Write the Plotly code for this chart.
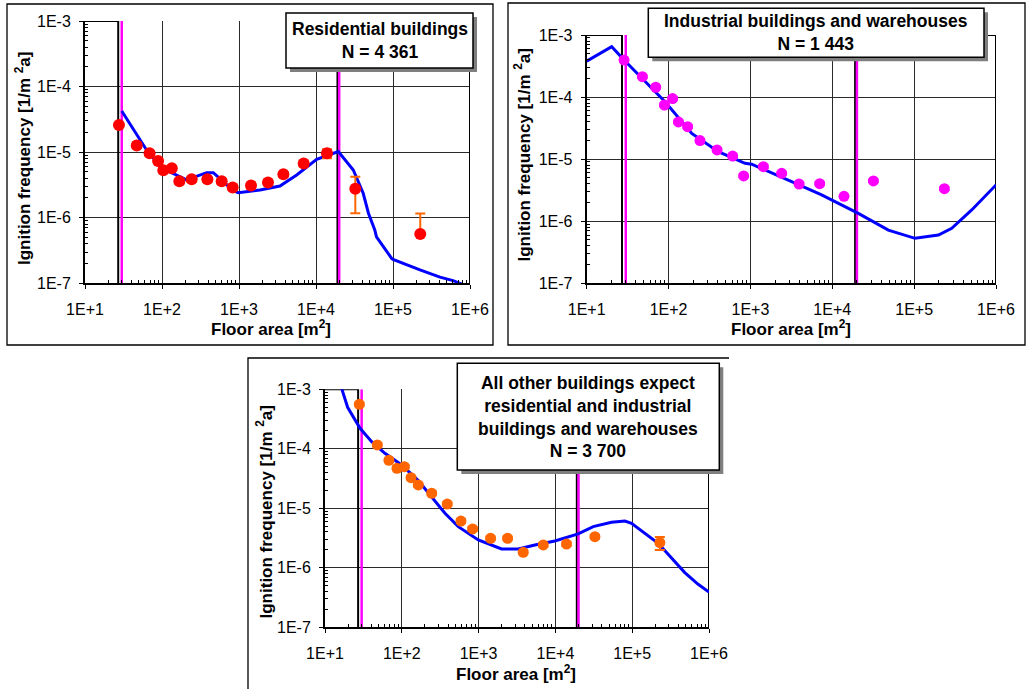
import plotly.graph_objects as go

# ---------------- data ----------------
# Residential buildings
res_area = [27.6, 47, 69, 89, 104, 134, 168, 243, 388, 596, 828, 1432, 2380, 3770, 6920, 13900, 32400, 226000]
res_freq = [2.6e-5, 1.26e-5, 9.6e-6, 7.3e-6, 5.3e-6, 5.7e-6, 3.6e-6, 3.85e-6, 3.85e-6, 3.6e-6, 2.9e-6,
            3.1e-6, 3.45e-6, 4.6e-6, 6.7e-6, 9.6e-6, 2.77e-6, 5.65e-7]
res_err_hi = [1.5e-6, 8e-7, 6e-7, 5e-7, 4e-7, 4e-7, 3e-7, 3e-7, 3e-7, 3e-7, 2.5e-7, 3e-7, 3e-7, 4e-7, 6e-7,
              1.5e-6, 1.45e-6, 6e-7]
res_err_lo = [1.5e-6, 8e-7, 6e-7, 5e-7, 4e-7, 4e-7, 3e-7, 3e-7, 3e-7, 3e-7, 2.5e-7, 3e-7, 3e-7, 4e-7, 6e-7,
              1.5e-6, 1.6e-6, 0]
res_fit_area = [30, 31.4, 63, 99, 209, 380, 464, 843, 980, 1875, 3400, 5610, 10200, 19500, 30500, 41000,
                48000, 58000, 61000, 96000, 100000, 224000, 407000, 603000, 861000, 1000000]
res_fit_freq = [4.25e-5, 3.9e-5, 1.08e-5, 5.7e-6, 3.77e-6, 4.87e-6, 4.87e-6, 2.58e-6, 2.41e-6, 2.65e-6,
                3.05e-6, 4.49e-6, 7.8e-6, 1.02e-5, 5.35e-6, 2.36e-6, 1.17e-6, 6.5e-7, 5.1e-7, 2.4e-7,
                2.32e-7, 1.6e-7, 1.24e-7, 1.1e-7, 9.3e-8, 9.1e-8]

# Industrial buildings and warehouses
ind_area = [28.6, 47.9, 69.7, 89, 112, 132, 171, 242, 391, 607, 827, 1440, 2410, 3930, 7020, 13900, 31800, 234000]
ind_freq = [3.95e-4, 2.13e-4, 1.44e-4, 7.45e-5, 9.45e-5, 3.97e-5, 3.34e-5, 1.99e-5, 1.41e-5, 1.12e-5,
            5.36e-6, 7.57e-6, 5.91e-6, 3.98e-6, 4.03e-6, 2.52e-6, 4.45e-6, 3.35e-6]
ind_err = [v * 0.05 for v in ind_freq]
ind_fit_area = [10, 20.2, 28.6, 90.6, 192, 405, 859, 1035, 3190, 7410, 20800, 48400, 102500, 198000,
                288000, 505000, 1000000]
ind_fit_freq = [3.8e-4, 6.5e-4, 3.95e-4, 8.4e-5, 2.6e-5, 1.32e-5, 8.57e-6, 8.3e-6, 4.35e-6, 2.65e-6,
                1.34e-6, 7.2e-7, 5.3e-7, 6.0e-7, 7.7e-7, 1.52e-6, 3.84e-6]

# All other buildings
oth_area = [28, 48, 68, 86.5, 108, 132, 164, 245, 391, 589, 835, 1432, 2383, 3810, 6950, 13960, 32700, 229000]
oth_freq = [5.6e-4, 1.16e-4, 6.4e-5, 4.7e-5, 5.0e-5, 3.27e-5, 2.47e-5, 1.79e-5, 1.18e-5, 6.1e-6, 4.5e-6,
            3.13e-6, 3.13e-6, 1.82e-6, 2.42e-6, 2.51e-6, 3.34e-6, 2.65e-6]
oth_err = [v * 0.07 for v in oth_freq[:-1]] + [6.5e-7]
oth_fit_area = [15.7, 19.7, 28.6, 40.5, 60.3, 99.5, 164, 257, 365, 544, 990, 1990, 3280, 5410, 9840,
                19800, 31100, 53800, 80300, 98000, 218000, 484000, 722000, 1000000]
oth_fit_freq = [1.26e-3, 4.98e-4, 2.21e-4, 1.32e-4, 8.4e-5, 5.35e-5, 2.92e-5, 1.47e-5, 8.24e-6, 4.92e-6,
                2.94e-6, 2.07e-6, 2.07e-6, 2.42e-6, 2.82e-6, 3.71e-6, 4.92e-6, 5.82e-6, 6.12e-6, 5.6e-6,
                2.58e-6, 8.3e-7, 5.28e-7, 3.9e-7]

# class limits of the floor-area range
limit_low = 30
limit_high = 20000
frame_low = 27
frame_high = 19000

x_tick_vals = [10, 100, 1000, 10000, 100000, 1000000]
x_tick_text = ["1E+1", "1E+2", "1E+3", "1E+4", "1E+5", "1E+6"]
y_tick_vals = [1e-7, 1e-6, 1e-5, 1e-4, 1e-3]
y_tick_text = ["1E-7", "1E-6", "1E-5", "1E-4", "1E-3"]

panel_titles = ["Residential buildings<br>N = 4 361",
                "Industrial buildings and warehouses<br>N = 1 443",
                "All other buildings expect<br>residential and industrial<br>buildings and warehouses<br>N = 3 700"]

# ---------------- layout helpers ----------------
W, H = 1029, 689
FONT = "Liberation Sans, Arial, sans-serif"


def px_x(p):
    return p / W


def px_y(p):
    return 1 - p / H


x_minor = [k * 10 ** e for e in range(1, 6) for k in range(2, 10)]
y_minor = [k * 10.0 ** e for e in range(-7, -3) for k in range(2, 10)]


def x_axis(dom, anchor):
    return dict(type="log", range=[1, 6], domain=dom, anchor=anchor,
                showgrid=True, gridcolor="#2a2a2a", gridwidth=1, zeroline=False,
                showline=True, linecolor="black", linewidth=2,
                ticks="outside", ticklen=4, tickwidth=1, tickcolor="black",
                tickmode="array", tickvals=x_tick_vals, ticktext=x_tick_text,
                tickfont=dict(family=FONT, size=16, color="black"),
                ticklabelstandoff=6,
                minor=dict(ticks="inside", ticklen=3, tickwidth=1, tickcolor="black",
                           tickmode="array", tickvals=x_minor, showgrid=False),
                automargin=False, fixedrange=True)


def y_axis(dom, anchor):
    return dict(type="log", range=[-7, -3], domain=dom, anchor=anchor,
                showgrid=True, gridcolor="#2a2a2a", gridwidth=1, zeroline=False,
                showline=True, linecolor="black", linewidth=2,
                ticks="outside", ticklen=4, tickwidth=1, tickcolor="black",
                tickmode="array", tickvals=y_tick_vals, ticktext=y_tick_text,
                tickfont=dict(family=FONT, size=16, color="black"),
                ticklabelstandoff=5,
                minor=dict(ticks="inside", ticklen=3, tickwidth=1, tickcolor="black",
                           tickmode="array", tickvals=y_minor, showgrid=False),
                automargin=False, fixedrange=True)


# plot-area pixel boxes: (left, right, top, bottom)
areas = [(85, 470, 21, 283.3), (586.7, 996, 35, 283.3), (325, 709, 389.3, 627.3)]

fig = go.Figure()

panels = [
    (res_area, res_freq, res_err_hi, res_err_lo, res_fit_area, res_fit_freq, "#FF0000", "#FF6600", 12),
    (ind_area, ind_freq, ind_err, ind_err, ind_fit_area, ind_fit_freq, "#FF00FF", "#FF00FF", 11),
    (oth_area, oth_freq, oth_err, oth_err, oth_fit_area, oth_fit_freq, "#FF6600", "#FF6600", 11),
]

for i, (ax_, fy_, eh, el, fa, ff, mcol, ecol, msize) in enumerate(panels):
    sfx = "" if i == 0 else str(i + 1)
    xa, ya = "x" + sfx, "y" + sfx
    # black frames of the valid area range
    fig.add_trace(go.Scatter(x=[10, frame_low, frame_low], y=[1e-3, 1e-3, 1e-7], mode="lines",
                             line=dict(color="black", width=2), xaxis=xa, yaxis=ya,
                             hoverinfo="skip", showlegend=False))
    fig.add_trace(go.Scatter(x=[frame_high, frame_high, 1e6, 1e6], y=[1e-7, 1e-3, 1e-3, 1e-7], mode="lines",
                             line=dict(color="black", width=2), xaxis=xa, yaxis=ya,
                             hoverinfo="skip", showlegend=False))
    # class limits
    for lim in (limit_low, limit_high):
        fig.add_trace(go.Scatter(x=[lim, lim], y=[1e-7, 1e-3], mode="lines",
                                 line=dict(color="#FF00FF", width=2.5), xaxis=xa, yaxis=ya,
                                 hoverinfo="skip", showlegend=False))
    # fitted curve
    fig.add_trace(go.Scatter(x=fa, y=ff, mode="lines", line=dict(color="#0000FF", width=3),
                             xaxis=xa, yaxis=ya, showlegend=False))
    # observed frequencies
    fig.add_trace(go.Scatter(x=ax_, y=fy_, mode="markers",
                             marker=dict(color=mcol, size=msize, line=dict(width=0)),
                             error_y=dict(type="data", symmetric=False, array=eh, arrayminus=el,
                                          color=ecol, thickness=2, width=5),
                             xaxis=xa, yaxis=ya, showlegend=False))

shapes = []
annotations = []
layout_axes = {}
for i, (l, r, t, b) in enumerate(areas):
    sfx = "" if i == 0 else str(i + 1)
    xdom = [px_x(l), px_x(r)]
    ydom = [px_y(b), px_y(t)]
    layout_axes["xaxis" + sfx] = x_axis(xdom, "y" + sfx)
    layout_axes["yaxis" + sfx] = y_axis(ydom, "x" + sfx)

# axis titles
title_pos = [
    # (x-title center px, y px), (y-title center x px, y px)
    ((270.8, 328), (23, 158)),
    ((790.5, 328), (522.5, 155)),
    ((515.5, 672.5), (264, 511.5)),
]
for (xt, yt) in title_pos:
    annotations.append(dict(x=px_x(xt[0]), y=px_y(xt[1]), xref="paper", yref="paper",
                            text="<b>Floor area [m<sup>2</sup>]</b>", showarrow=False,
                            xanchor="center", yanchor="middle",
                            font=dict(family=FONT, size=17, color="black")))
    annotations.append(dict(x=px_x(yt[0]), y=px_y(yt[1]), xref="paper", yref="paper",
                            text="<b>Ignition frequency [1/m <sup>2</sup>a]</b>", showarrow=False,
                            textangle=-90, xanchor="center", yanchor="middle",
                            font=dict(family=FONT, size=17, color="black")))

# outer panel frames
shapes.append(dict(type="rect", xref="paper", yref="paper", x0=px_x(7), x1=px_x(493), y0=px_y(345), y1=px_y(4),
                   line=dict(color="black", width=1.3), fillcolor="rgba(0,0,0,0)", layer="below"))
shapes.append(dict(type="rect", xref="paper", yref="paper", x0=px_x(508), x1=px_x(1025), y0=px_y(345), y1=px_y(3),
                   line=dict(color="black", width=1.3), fillcolor="rgba(0,0,0,0)", layer="below"))
shapes.append(dict(type="path", xref="paper", yref="paper",
                   path=f"M {px_x(248)} {px_y(700)} L {px_x(248)} {px_y(358)} L {px_x(729)} {px_y(358)}",
                   line=dict(color="black", width=1.3), layer="below"))

# title boxes with drop shadow
boxes = [(286, 473, 13, 68), (648.3, 984, 8.3, 57.3), (457.3, 719.3, 363.3, 470)]
for (l, r, t, b), txt in zip(boxes, panel_titles):
    shapes.append(dict(type="rect", xref="paper", yref="paper", x0=px_x(l + 4), x1=px_x(r + 4),
                       y0=px_y(b + 4), y1=px_y(t + 4), line=dict(width=0), fillcolor="#7f7f7f", layer="above"))
    shapes.append(dict(type="rect", xref="paper", yref="paper", x0=px_x(l), x1=px_x(r),
                       y0=px_y(b), y1=px_y(t), line=dict(color="black", width=1.5), fillcolor="white",
                       layer="above"))
    annotations.append(dict(x=px_x((l + r) / 2), y=px_y((t + b) / 2), xref="paper", yref="paper",
                            text="<b>" + txt + "</b>", showarrow=False, xanchor="center", yanchor="middle",
                            align="center", font=dict(family=FONT, size=17.5, color="black")))

fig.update_layout(width=W, height=H, margin=dict(l=0, r=0, t=0, b=0, autoexpand=False),
                  paper_bgcolor="white", plot_bgcolor="white", showlegend=False,
                  shapes=shapes, annotations=annotations, **layout_axes)

fig.write_html("out.html")
